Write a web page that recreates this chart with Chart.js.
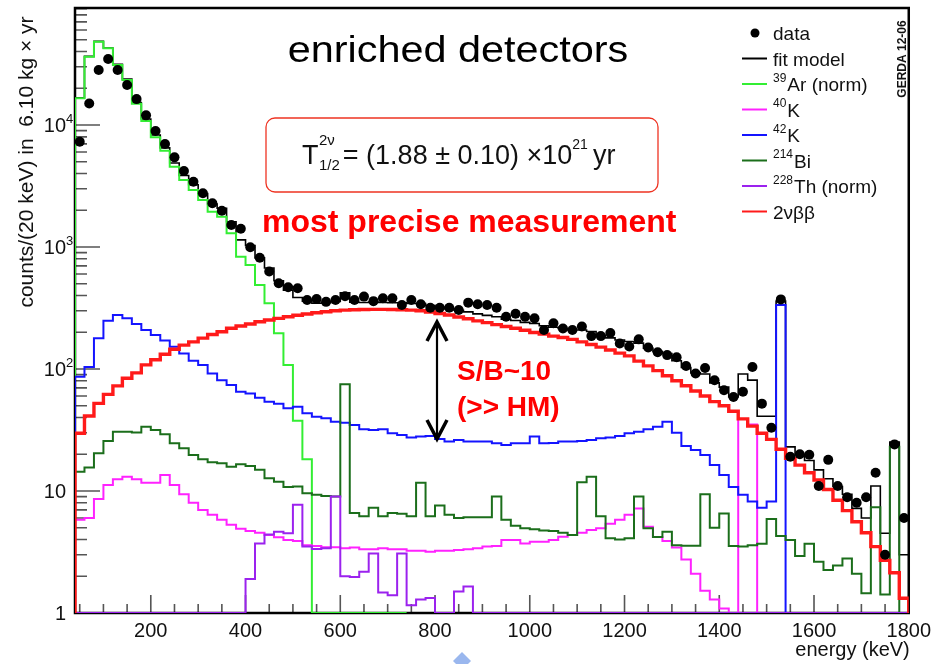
<!DOCTYPE html>
<html>
<head>
<meta charset="utf-8">
<title>enriched detectors</title>
<script src="https://cdn.jsdelivr.net/npm/chart.js@4.4.1/dist/chart.umd.min.js"></script>
<style>
  html, body { margin: 0; padding: 0; background: #fff; }
  #wrap { position: relative; width: 937px; height: 664px; }
</style>
</head>
<body>
<div id="wrap"><canvas id="spectrum"></canvas></div>
<script>
// 20 keV bins, 40 .. 1800 keV
const energyMin = 40;
const energyMax = 1800;
const binWidth = 20;

const energyTicks = [200, 400, 600, 800, 1000, 1200, 1400, 1600, 1800];
const countTicks = [1, 10, 100, 1000, 10000];
const countTickLabels = ['1', '10', '10^2', '10^3', '10^4'];

// measured counts per bin
const dataCounts = [
  7300, 15000, 28200, 34800, 28200, 21300, 16300, 12000, 8930, 6980,
  5430, 4200, 3430, 2755, 2280, 1985, 1515, 1413, 995, 817,
  630, 505, 468, 459, 368, 375, 355, 368, 395, 368,
  392, 360, 380, 380, 335, 368, 340, 318, 318, 318,
  305, 350, 340, 335, 318, 268, 284, 268, 260, 209,
  237, 215, 209, 223, 186, 186, 197, 162, 153, 175,
  150, 137, 130, 125, 106, 92, 102, 81, 67, 59,
  65, 104, 52, 33, 372, 19.1, 20, 19.8, 11, 18,
  11, 8.9, 8.0, 8.9, 14.1, 3.0, 24.1, 6.0
];

const fitModel = [
  16700, 36500, 48500, 42800, 31400, 23800, 15300, 11200, 8270, 6500,
  4880, 3860, 3240, 2740, 2250, 2080, 1610, 1145, 1030, 815,
  673, 529, 443, 386, 360, 346, 349, 358, 421, 352,
  351, 353, 351, 349, 349, 344, 344, 331, 322, 312,
  303, 294, 283, 275, 268, 256, 250, 241, 236, 226,
  220, 215, 209, 209, 203, 189, 180, 173, 168, 163,
  148, 139, 134, 117, 103, 93, 91, 77, 71, 59,
  91, 81, 41, 41, 361, 23, 20, 17.8, 14.9, 12.6,
  10.9, 9.4, 7.2, 6.0, 11, 4.5, 25.2, 3.0
];

const ar39 = [
  16600, 36300, 48200, 42500, 31000, 23400, 14900, 10800, 7920, 6150,
  4550, 3540, 2930, 2430, 1945, 1770, 1295, 833, 712, 489,
  346, 196, 108, 37.7, 18.2, 0, 0, 0, 0, 0,
  0, 0, 0, 0, 0
];

const k40 = [
  5.8, 6.0, 8.6, 11.2, 12.5, 13.1, 12.5, 11.7, 11.7, 13.5,
  11.2, 9.4, 8.0, 7.0, 6.4, 5.8, 5.3, 4.9, 4.7, 4.55,
  4.36, 4.17, 3.96, 3.9, 3.6, 3.54, 3.46, 3.46, 3.39, 3.45,
  3.33, 3.33, 3.39, 3.33, 3.33, 3.24, 3.24, 3.18, 3.24, 3.24,
  3.28, 3.33, 3.39, 3.5, 3.54, 3.96, 3.96, 3.72, 3.84, 3.84,
  3.96, 4.22, 4.36, 4.55, 4.79, 4.94, 5.4, 5.8, 6.4, 7.2,
  5.1, 4.2, 3.9, 3.45, 2.75, 2.1, 1.52, 1.29, 1.09, 0,
  39, 35, 0, 0, 0, 0, 0, 0, 0, 0,
  0, 0, 0, 0, 0, 0, 0, 0
];

const k42 = [
  86.5, 104, 179, 249, 277, 260, 234, 209, 190, 171,
  152, 134, 117, 108, 92, 81, 74, 65, 63, 58,
  54, 52, 47.6, 49, 43.4, 40.6, 39.4, 37, 36.3, 34.8,
  32, 31.6, 32, 29.7, 28.8, 27.5, 28, 28.3, 26.7, 25.4,
  26.2, 25.4, 25.4, 25.4, 24.6, 23.8, 24.6, 24.6, 28, 24.6,
  24.8, 25.4, 25.4, 25.7, 26.2, 27, 27.5, 28.3, 29.7, 30.6,
  32.1, 33.6, 37, 30, 23.4, 21.7, 19.7, 16.3, 13.5, 10.8,
  9.3, 8.2, 7.3, 8.2, 335, 0, 0, 0, 0, 0,
  0, 0, 0, 0, 0, 0, 0, 0
];

const bi214 = [
  14.4, 15.6, 20.4, 25.7, 30.6, 30.6, 30.2, 33.6, 31.6, 29.2,
  24.6, 22.4, 19.7, 18.2, 17.2, 16.9, 15.8, 16.6, 16.0, 14.9,
  12.7, 11.9, 10.8, 10.9, 9.6, 9.3, 9.1, 9.0, 75, 6.6,
  6.2, 7.3, 6.2, 6.6, 6.5, 6.2, 11.7, 6.2, 7.6, 6.4,
  6.0, 6.1, 6.1, 6.1, 9.0, 5.8, 5.2, 4.94, 4.85, 4.75,
  4.7, 4.55, 4.36, 11.8, 13.1, 6.2, 4.1, 4.0, 4.1, 9.0,
  4.94, 4.2, 4.64, 3.6, 3.56, 3.56, 9.4, 5.0, 6.55, 3.54,
  3.5, 3.6, 3.7, 5.9, 4.27, 3.96, 2.93, 3.7, 2.63, 2.25,
  2.45, 2.8, 2.1, 1.45, 7.35, 1.42, 23.1, 0
];

const th228 = [
  0, 0, 0, 0, 0, 0, 0, 0, 0, 0,
  0, 0, 0, 0, 0, 0, 0, 0, 1.9, 3.72,
  4.4, 4.64, 4.5, 7.7, 3.5, 3.35, 3.4, 9.0, 2.0, 1.97,
  2.18, 3.08, 1.47, 1.4, 3.08, 1.16, 1.29, 1.33, 0, 0,
  1.5, 1.65, 0, 0, 0, 0, 0, 0, 0, 0,
  0, 0, 0, 0, 0, 0, 0, 0, 0, 0,
  0, 0, 0, 0, 0, 0, 0, 0, 0, 0,
  0, 0, 0, 0, 0, 0, 0, 0, 0, 0,
  0, 0, 0, 0, 0, 0, 0, 0
];

const twoNuBB = [
  29.7, 41.2, 52.3, 62, 72.7, 84, 93, 108, 119, 132,
  145, 157, 167, 179, 192, 202, 216, 225, 234, 244,
  252, 260, 268, 276, 282, 289, 295, 300, 304, 306,
  307, 308, 308, 307, 306, 304, 300, 293, 285, 277,
  267, 258, 248, 240, 231, 223, 216, 208, 199, 193,
  186, 181, 175, 167, 159, 151, 143, 135, 128, 116,
  106, 97, 88, 80, 73, 66, 60, 54, 50, 45,
  39, 34, 29.7, 26.5, 22, 18.5, 16.3, 14.1, 12.3, 10.3,
  8.4, 6.9, 5.6, 4.55, 3.5, 2.7, 2.14, 1.32
];

const seriesLabels = ['data', 'fit model', '^39Ar (norm)', '^40K', '^42K', '^214Bi', '^228Th (norm)', '2νββ'];
const seriesColors = ['#000000', '#000000', '#33ee33', '#ff22ff', '#1414ff', '#1b6e1b', '#9b22ee', '#ff1a1a'];
const seriesWidths = [0, 1.6, 2, 2, 2, 2, 2, 3.4];

const FONT = '"Liberation Sans", Arial, Helvetica, sans-serif';
const countFloor = 1; // empty bins sit on the lower frame edge of the log axis

// histogram outline: rises from the floor at the first edge, drops back at the last one
function histogram(counts) {
  const pts = [{ x: energyMin, y: countFloor }];
  counts.forEach((c, i) => pts.push({ x: energyMin + i * binWidth, y: Math.max(c, countFloor) }));
  const end = energyMin + counts.length * binWidth;
  pts.push({ x: end, y: Math.max(counts[counts.length - 1], countFloor) });
  pts.push({ x: end, y: countFloor });
  return pts;
}

function histDataset(i, counts, order) {
  return {
    label: seriesLabels[i],
    data: histogram(counts),
    borderColor: seriesColors[i],
    borderWidth: seriesWidths[i],
    stepped: true,
    pointRadius: 0,
    fill: false,
    order: order
  };
}

// label with optional leading isotope mass number as superscript
function drawLabel(ctx, label, x, baseline, size) {
  const m = label.match(/^\^(\d+)(.*)$/);
  ctx.textAlign = 'left';
  ctx.textBaseline = 'alphabetic';
  if (m) {
    ctx.font = `${Math.round(size * 0.63)}px ${FONT}`;
    ctx.fillText(m[1], x, baseline - size * 0.48);
    x += ctx.measureText(m[1]).width + 1;
    label = m[2];
  }
  ctx.font = `${size}px ${FONT}`;
  ctx.fillText(label, x, baseline);
}

const decorations = {
  id: 'decorations',
  beforeDatasetsDraw(chart) {
    const { ctx, chartArea: area, scales: { x, y } } = chart;
    ctx.save();
    // ticks point into the frame
    ctx.strokeStyle = '#555';
    ctx.lineWidth = 1.6;
    ctx.beginPath();
    for (let e = 50; e <= energyMax; e += 50) {
      const px = x.getPixelForValue(e);
      const len = energyTicks.includes(e) ? 18 : 9;
      ctx.moveTo(px, area.bottom);
      ctx.lineTo(px, area.bottom - len);
    }
    countTicks.forEach(decade => {
      for (let m = 1; m <= 9; m++) {
        const v = m * decade;
        if (v > y.max) break;
        const py = y.getPixelForValue(v);
        ctx.moveTo(area.left, py);
        ctx.lineTo(area.left + (m === 1 ? 25 : 12), py);
      }
    });
    ctx.stroke();

    ctx.strokeStyle = '#000';
    ctx.lineWidth = 2.5;
    ctx.strokeRect(area.left, area.top, area.right - area.left, area.bottom - area.top);
    ctx.restore();
  },
  afterDraw(chart) {
    const { ctx, chartArea: area, scales: { y } } = chart;
    ctx.save();

    // y tick labels, exponent written ROOT-style after the base
    ctx.fillStyle = '#111';
    countTicks.forEach((v, i) => {
      const py = y.getPixelForValue(v);
      const [base, exp] = countTickLabels[i].split('^');
      ctx.font = `20px ${FONT}`;
      ctx.textAlign = 'right';
      ctx.textBaseline = 'alphabetic';
      ctx.fillText(base, area.left - 9, py + 7);
      if (exp) {
        ctx.font = `13px ${FONT}`;
        ctx.textAlign = 'left';
        ctx.fillText(exp, area.left - 9, py - 2);
      }
    });

    // axis titles
    ctx.fillStyle = '#111';
    ctx.save();
    ctx.translate(33, 162);
    ctx.rotate(-Math.PI / 2);
    ctx.font = `21px ${FONT}`;
    ctx.textAlign = 'center';
    ctx.fillText('counts/(20 keV) in  6.10 kg × yr', 0, 0);
    ctx.restore();

    ctx.font = `20px ${FONT}`;
    ctx.textAlign = 'right';
    ctx.fillText('energy (keV)', area.right + 1, 656);

    // title
    ctx.save();
    ctx.translate(458, 62);
    ctx.scale(1.15, 1);
    ctx.font = `36px ${FONT}`;
    ctx.textAlign = 'center';
    ctx.fillStyle = '#000';
    ctx.fillText('enriched detectors', 0, 0);
    ctx.restore();

    // legend
    seriesLabels.forEach((label, i) => {
      const cy = 33 + i * 25.5;
      if (i === 0) {
        ctx.fillStyle = '#000';
        ctx.beginPath();
        ctx.arc(755, cy, 4.5, 0, Math.PI * 2);
        ctx.fill();
      } else {
        ctx.strokeStyle = seriesColors[i];
        ctx.lineWidth = 2;
        ctx.beginPath();
        ctx.moveTo(742, cy);
        ctx.lineTo(767, cy);
        ctx.stroke();
      }
      ctx.fillStyle = '#111';
      drawLabel(ctx, label, 773, cy + 7, 19);
    });

    ctx.save();
    ctx.translate(903, 59);
    ctx.rotate(-Math.PI / 2);
    ctx.font = `bold 12px ${FONT}`;
    ctx.textAlign = 'center';
    ctx.textBaseline = 'middle';
    ctx.fillStyle = '#111';
    ctx.fillText('GERDA 12-06', 0, 0);
    ctx.restore();

    // half-life box
    const bx = 266, by = 118, bw = 392, bh = 74, r = 9;
    ctx.strokeStyle = '#ee3322';
    ctx.lineWidth = 1.3;
    ctx.beginPath();
    ctx.moveTo(bx + r, by);
    ctx.arcTo(bx + bw, by, bx + bw, by + bh, r);
    ctx.arcTo(bx + bw, by + bh, bx, by + bh, r);
    ctx.arcTo(bx, by + bh, bx, by, r);
    ctx.arcTo(bx, by, bx + bw, by, r);
    ctx.closePath();
    ctx.stroke();

    ctx.fillStyle = '#111';
    ctx.textAlign = 'left';
    ctx.textBaseline = 'alphabetic';
    let tx = 302;
    const ty = 164;
    ctx.font = `27px ${FONT}`;
    ctx.fillText('T', tx, ty);
    tx += ctx.measureText('T').width + 0.5;
    ctx.font = `15px ${FONT}`;
    ctx.fillText('2ν', tx, ty - 19);
    ctx.fillText('1/2', tx, ty + 6);
    tx += Math.max(ctx.measureText('2ν').width, ctx.measureText('1/2').width) + 3;
    ctx.font = `27px ${FONT}`;
    const mid = '= (1.88 ± 0.10) ×10';
    ctx.fillText(mid, tx, ty);
    tx += ctx.measureText(mid).width;
    ctx.font = `14px ${FONT}`;
    ctx.fillText('21', tx, ty - 15);
    tx += ctx.measureText('21').width + 5;
    ctx.font = `27px ${FONT}`;
    ctx.fillText('yr', tx, ty);

    // annotations
    ctx.fillStyle = '#ff0000';
    ctx.font = `bold 32px ${FONT}`;
    ctx.fillText('most precise measurement', 262, 232);
    ctx.font = `bold 28px ${FONT}`;
    ctx.fillText('S/B~10', 457, 380);
    ctx.fillText('(>> HM)', 457, 416);

    // double arrow between signal and background
    ctx.strokeStyle = '#000';
    ctx.lineWidth = 2.2;
    ctx.beginPath();
    ctx.moveTo(437, 323);
    ctx.lineTo(437, 437);
    ctx.stroke();
    ctx.lineWidth = 3.5;
    ctx.lineJoin = 'miter';
    ctx.beginPath();
    ctx.moveTo(427, 341);
    ctx.lineTo(437, 322);
    ctx.lineTo(447, 341);
    ctx.moveTo(427, 420);
    ctx.lineTo(437, 439);
    ctx.lineTo(447, 420);
    ctx.stroke();

    // slide marker at bottom edge
    ctx.fillStyle = '#9ab7ee';
    ctx.beginPath();
    ctx.moveTo(462, 652);
    ctx.lineTo(471, 661);
    ctx.lineTo(462, 670);
    ctx.lineTo(453, 661);
    ctx.closePath();
    ctx.fill();

    ctx.restore();
  }
};

new Chart(document.getElementById('spectrum'), {
  type: 'line',
  data: {
    datasets: [
      {
        label: seriesLabels[0],
        data: dataCounts.map((c, i) => ({ x: energyMin + binWidth * (i + 0.5), y: c })),
        showLine: false,
        pointRadius: 5,
        pointBackgroundColor: '#000',
        pointBorderWidth: 0,
        order: 0
      },
      histDataset(1, fitModel, 7),
      histDataset(2, ar39, 6),
      histDataset(3, k40, 5),
      histDataset(4, k42, 4),
      histDataset(5, bi214, 3),
      histDataset(6, th228, 2),
      histDataset(7, twoNuBB, 1)
    ]
  },
  options: {
    responsive: true,
    maintainAspectRatio: false,
    animation: false,
    events: [],
    layout: { padding: { left: 0, right: 26, top: 8, bottom: 0 } },
    plugins: { legend: { display: false }, tooltip: { enabled: false } },
    scales: {
      x: {
        type: 'linear',
        min: energyMin,
        max: energyMax,
        grid: { display: false, drawTicks: false },
        border: { display: false },
        afterBuildTicks: s => { s.ticks = energyTicks.map(v => ({ value: v })); },
        afterFit: s => { s.height = 51; },
        ticks: {
          padding: 6,
          color: '#111',
          maxRotation: 0,
          autoSkip: false,
          font: { family: FONT, size: 20 },
          callback: v => String(v)
        }
      },
      y: {
        type: 'logarithmic',
        min: 1,
        max: 91000,
        grid: { display: false, drawTicks: false },
        border: { display: false },
        ticks: { display: false },
        afterFit: s => { s.width = 75; }
      }
    }
  },
  plugins: [decorations]
});
</script>
</body>
</html>
